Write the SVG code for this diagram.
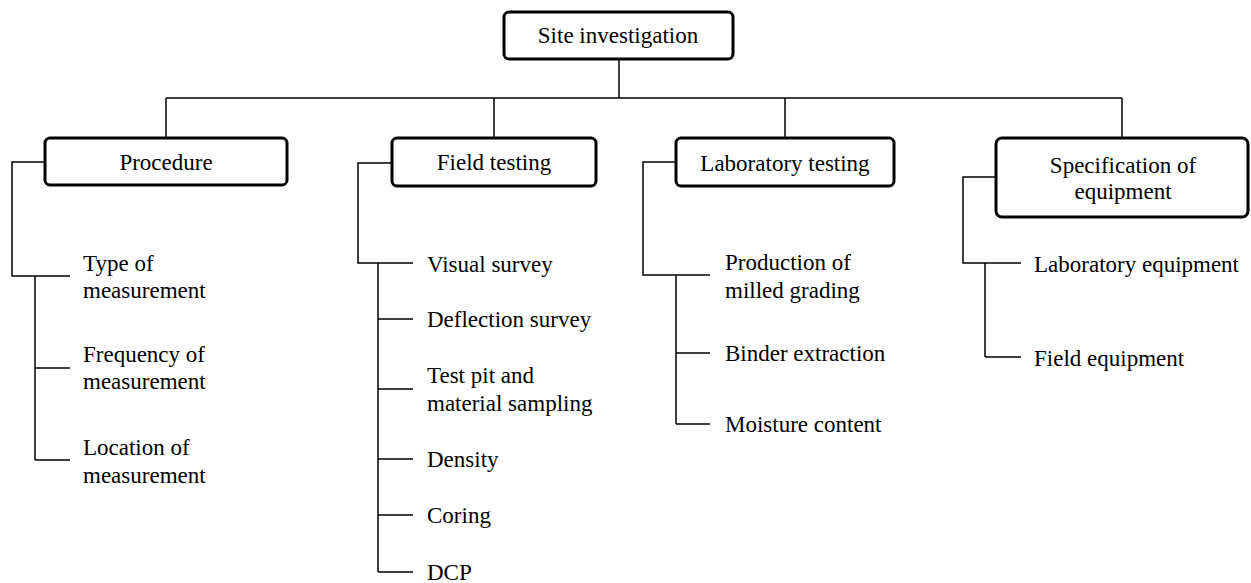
<svg xmlns="http://www.w3.org/2000/svg" width="1251" height="583" viewBox="0 0 1251 583">
<style>
.box{fill:#fff;stroke:#000;stroke-width:3}
.ln{fill:none;stroke:#000;stroke-width:1.5}
.t{font-family:'Liberation Serif','DejaVu Serif',serif;font-size:23px;fill:#000}
.c{text-anchor:middle}
</style>
<rect width="1251" height="583" fill="#fff"/>
<g id="connectors">
<path class="ln" d="M619,59 V98 M166,98 H1122 M166,98 V138 M494,98 V138 M785,98 V138 M1122,98 V138"/>
<path class="ln" d="M45,162 H12 V276 H70 M35,276 V460 M35,368 H70 M35,460 H70"/>
<path class="ln" d="M392,163 H358 V263 H413 M378,263 V572 M378,319 H413 M378,389 H413 M378,459 H413 M378,515 H413 M378,572 H413"/>
<path class="ln" d="M676,162 H643 V275 H710 M676,275 V424 M676,353 H710 M676,424 H710"/>
<path class="ln" d="M996,177 H963 V263 H1021 M985,263 V357 M985,357 H1021"/>
</g>
<g class="t" font-family="Liberation Serif, DejaVu Serif, serif">
<g id="site-investigation">
<rect class="box" x="504" y="12" width="229" height="47" rx="5"/>
<text class="c" x="618" y="43">Site investigation</text>
</g>
<g id="procedure">
<rect class="box" x="45" y="138" width="242" height="47" rx="5"/>
<text class="c" x="166" y="170">Procedure</text>
</g>
<g id="field-testing">
<rect class="box" x="392" y="138" width="204" height="48" rx="5"/>
<text class="c" x="494" y="170">Field testing</text>
</g>
<g id="laboratory-testing">
<rect class="box" x="676" y="138" width="218" height="48" rx="5"/>
<text class="c" x="785" y="171">Laboratory testing</text>
</g>
<g id="specification">
<rect class="box" x="996" y="138" width="252" height="79" rx="6"/>
<text class="c" x="1123" y="173">Specification of</text>
<text class="c" x="1123" y="199">equipment</text>
</g>
<g id="type-of-measurement"><text x="83" y="271">Type of</text><text x="83" y="298">measurement</text></g>
<g id="frequency-of-measurement"><text x="83" y="362">Frequency of</text><text x="83" y="389">measurement</text></g>
<g id="location-of-measurement"><text x="83" y="455">Location of</text><text x="83" y="483">measurement</text></g>
<g id="visual-survey"><text x="427" y="272">Visual survey</text></g>
<g id="deflection-survey"><text x="427" y="327">Deflection survey</text></g>
<g id="test-pit"><text x="427" y="383">Test pit and</text><text x="427" y="411">material sampling</text></g>
<g id="density"><text x="427" y="467">Density</text></g>
<g id="coring"><text x="427" y="523">Coring</text></g>
<g id="dcp"><text x="427" y="580">DCP</text></g>
<g id="production-milled-grading"><text x="725" y="270">Production of</text><text x="725" y="298">milled grading</text></g>
<g id="binder-extraction"><text x="725" y="361">Binder extraction</text></g>
<g id="moisture-content"><text x="725" y="432">Moisture content</text></g>
<g id="laboratory-equipment"><text x="1034" y="272">Laboratory equipment</text></g>
<g id="field-equipment"><text x="1034" y="366">Field equipment</text></g>
</g>
</svg>
